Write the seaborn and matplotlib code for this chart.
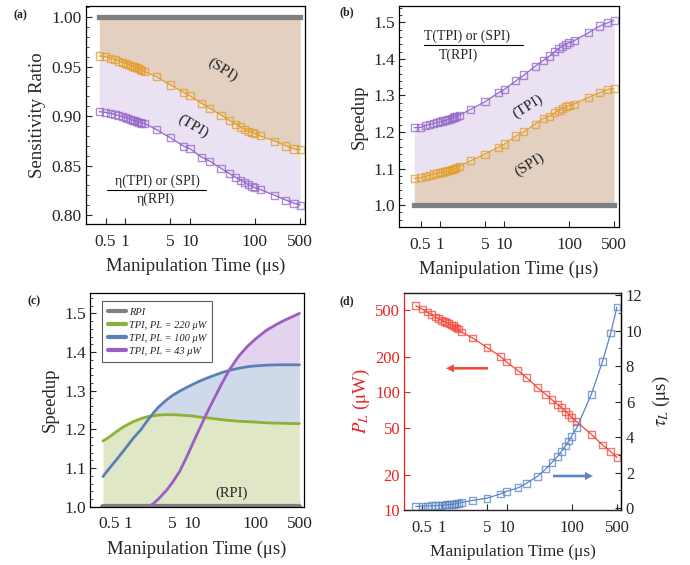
import numpy as np
import pandas as pd
import matplotlib
matplotlib.use("Agg")
import matplotlib.pyplot as plt
import seaborn as sns
from matplotlib.ticker import FixedLocator, FixedFormatter, NullLocator, MultipleLocator
from matplotlib.lines import Line2D

# ---------------- data ----------------
t_us = [0.4, 0.5, 0.6, 0.7, 0.8, 0.9, 1.0, 1.1, 1.2, 1.3, 1.4, 1.5, 1.6, 1.7, 1.8, 2,
        3, 5, 8, 10, 15, 20, 30, 40, 50, 60, 70, 80, 90, 100, 120, 200, 300, 400, 500]

# (a) sensitivity ratio
a_spi = [0.9608, 0.9601, 0.9585, 0.9570, 0.9555, 0.9545, 0.9535, 0.9525, 0.9515, 0.9505,
         0.9497, 0.9488, 0.9480, 0.9470, 0.9462, 0.9450, 0.9400, 0.9315, 0.9240, 0.9205,
         0.9130, 0.9080, 0.9010, 0.8960, 0.8920, 0.8890, 0.8862, 0.8845, 0.8835, 0.8822,
         0.8800, 0.8748, 0.8698, 0.8668, 0.8658]
a_tpi = [0.9045, 0.9038, 0.9028, 0.9015, 0.9003, 0.8995, 0.8985, 0.8977, 0.8968, 0.8960,
         0.8953, 0.8946, 0.8940, 0.8934, 0.8930, 0.8925, 0.8866, 0.8780, 0.8695, 0.8670,
         0.8585, 0.8545, 0.8472, 0.8421, 0.8382, 0.8353, 0.8326, 0.8305, 0.8290, 0.8275,
         0.8258, 0.8200, 0.8150, 0.8118, 0.8100]

# (b) speedup
b_tpi = [1.2116, 1.2126, 1.2180, 1.2208, 1.2236, 1.2260, 1.2280, 1.2300, 1.2318, 1.2335,
         1.2352, 1.2370, 1.2390, 1.2410, 1.2430, 1.2460, 1.2620, 1.2828, 1.3070, 1.3166,
         1.3400, 1.3558, 1.3800, 1.3960, 1.4080, 1.4195, 1.4288, 1.4350, 1.4400, 1.4440,
         1.4497, 1.4715, 1.4900, 1.4990, 1.5060]
b_spi = [1.0735, 1.0750, 1.0790, 1.0820, 1.0850, 1.0870, 1.0890, 1.0905, 1.0920, 1.0935,
         1.0950, 1.0965, 1.0980, 1.1000, 1.1020, 1.1067, 1.1212, 1.1396, 1.1580, 1.1670,
         1.1890, 1.2006, 1.2217, 1.2373, 1.2436, 1.2526, 1.2600, 1.2650, 1.2690, 1.2729,
         1.2764, 1.2947, 1.3073, 1.3166, 1.3194]
rpi_ref = 1.0

# (c) speedup for different powers
c_t = [0.4, 0.5, 0.65, 0.85, 1.2, 1.6, 2, 2.5, 3, 4, 5, 6.5, 8, 10, 13, 17, 22, 30, 40, 55,
       75, 100, 150, 220, 280, 380, 500]
c_220 = [1.170, 1.180, 1.194, 1.207, 1.220, 1.228, 1.233, 1.235, 1.237, 1.238, 1.238, 1.237,
         1.236, 1.235, 1.232, 1.230, 1.228, 1.225, 1.223, 1.221, 1.220, 1.219, 1.217, 1.216,
         1.216, 1.215, 1.215]
c_100 = [1.078, 1.0985, 1.121, 1.145, 1.177, 1.200, 1.2225, 1.2425, 1.2575, 1.276, 1.288, 1.299,
         1.307, 1.315, 1.324, 1.332, 1.339, 1.347, 1.353, 1.358, 1.362, 1.364, 1.366, 1.367,
         1.367, 1.367, 1.367]
c_43 = [np.nan, np.nan, np.nan, np.nan, np.nan, np.nan, 0.997, 1.008, 1.020, 1.042, 1.063,
        1.092, 1.122, 1.157, 1.198, 1.239, 1.276, 1.319, 1.356, 1.389, 1.414, 1.433, 1.456,
        1.472, 1.481, 1.491, 1.500]
c_labels = ["RPI", "TPI, PL = 220 \u03bcW", "TPI, PL = 100 \u03bcW", "TPI, PL = 43 \u03bcW"]

# (d) laser power and time constant
d_power = [541, 507, 478, 454, 434, 420, 408, 398, 388, 380, 372, 365, 357, 350, 343, 324,
           288, 239, 201, 180, 152, 134, 109, 96, 86, 79, 74, 69, 65, 61, 56, 44, 35.6, 31.3, 28]
d_tau = [0.10, 0.12, 0.13, 0.14, 0.15, 0.16, 0.17, 0.18, 0.19, 0.20, 0.21, 0.22, 0.24, 0.26,
         0.28, 0.32, 0.44, 0.57, 0.80, 0.95, 1.15, 1.40, 1.80, 2.21, 2.59, 2.89, 3.21, 3.50,
         3.78, 4.06, 4.53, 6.39, 8.27, 9.86, 11.33]

xticks = [0.5, 1, 5, 10, 100, 500]
xticklabels = ["0.5", "1", "5", "10", "100", "500"]

# ---------------- style ----------------
sns.set_style("ticks")
plt.rcParams['font.family'] = ['Liberation Serif', 'DejaVu Serif']
plt.rcParams['mathtext.fontset'] = 'stix'

ORANGE = "#E29E2A"
PURPLE = "#9467C8"
TAN = "#E4D0C1"
LAV = "#EAE2F3"
GRAY = "#808080"
GREEN = "#8DB135"
BLUE = "#5B80B8"
PURPLE_C = "#9B5EC2"
GREEN_F = "#DFE7C6"
BLUE_F = "#CFD9EA"
PURPLE_F = "#E2D3EF"
RED = "#F04A3C"
RED_T = "#E82323"
BLUE_D = "#5B84C4"

W, H = 690, 565
fig = plt.figure(figsize=(W / 100, H / 100), dpi=100)


def axes_px(l, t, r, b):
    return fig.add_axes([l / W, 1 - b / H, (r - l) / W, (b - t) / H])


def style(ax, fs=12.5, xlim=(0.25, 590)):
    ax.set_xscale('log')
    ax.set_xlim(*xlim)
    ax.xaxis.set_major_locator(FixedLocator(xticks))
    ax.xaxis.set_major_formatter(FixedFormatter(xticklabels))
    ax.xaxis.set_minor_locator(NullLocator())
    ax.tick_params(which='both', direction='in', top=False, right=False, labelsize=fs)
    ax.tick_params(which='major', length=4, width=0.8)
    ax.tick_params(which='minor', length=2, width=0.6)
    ax.tick_params(axis='x', pad=7)
    ax.tick_params(axis='y', pad=3)
    for s in ax.spines.values():
        s.set_visible(True)
        s.set_linewidth(0.9)
        s.set_color('black')
    ax.set_xlabel("Manipulation Time (\u03bcs)", fontsize=13.5, labelpad=6)


def scatter(ax, x, y, color, s=26):
    sns.scatterplot(x=x, y=y, ax=ax, marker='s', s=s, facecolor='none', edgecolor=color,
                    linewidth=1.0, alpha=0.75, legend=False, zorder=4)


def fitline(ax, x, y, color, lw=0.9):
    sns.lineplot(x=x, y=y, ax=ax, color=color, lw=lw, estimator=None, sort=False,
                 legend=False, zorder=3)


# ---------------- (a) ----------------
axa = axes_px(86, 6, 305, 224)
axa.set_xscale('log')
axa.fill_between(t_us, a_spi, rpi_ref, color=TAN, lw=0, zorder=1)
axa.fill_between(t_us, a_tpi, a_spi, color=LAV, lw=0, zorder=1)
sns.lineplot(x=[t_us[0], t_us[-1]], y=[rpi_ref, rpi_ref], ax=axa, color=GRAY, lw=3.8,
             solid_capstyle='projecting', zorder=2)
fitline(axa, t_us, a_spi, ORANGE)
fitline(axa, t_us, a_tpi, PURPLE)
scatter(axa, t_us, a_spi, ORANGE)
scatter(axa, t_us, a_tpi, PURPLE)
style(axa)
axa.set_ylim(0.7909, 1.0114)
axa.yaxis.set_major_locator(MultipleLocator(0.05))
axa.yaxis.set_minor_locator(MultipleLocator(0.01))
axa.yaxis.set_major_formatter(matplotlib.ticker.FormatStrFormatter('%.2f'))
axa.set_ylabel("Sensitivity Ratio", fontsize=13.5, labelpad=4)
axa.text(32, 0.9467, "(SPI)", rotation=-32, fontsize=11, ha='center', va='center', zorder=5)
axa.text(11.1, 0.890, "(TPI)", rotation=-30, fontsize=11, ha='center', va='center', zorder=5)

# ---------------- (b) ----------------
axb = axes_px(399, 6, 619, 227)
axb.set_xscale('log')
axb.fill_between(t_us, rpi_ref, b_spi, color=TAN, lw=0, zorder=1)
axb.fill_between(t_us, b_spi, b_tpi, color=LAV, lw=0, zorder=1)
sns.lineplot(x=[t_us[0], t_us[-1]], y=[rpi_ref, rpi_ref], ax=axb, color=GRAY, lw=3.8,
             solid_capstyle='projecting', zorder=2)
fitline(axb, t_us, b_spi, ORANGE)
fitline(axb, t_us, b_tpi, PURPLE)
scatter(axb, t_us, b_spi, ORANGE)
scatter(axb, t_us, b_tpi, PURPLE)
style(axb, xlim=(0.232, 596))
axb.set_ylim(0.94, 1.5447)
axb.yaxis.set_major_locator(MultipleLocator(0.1))
axb.yaxis.set_minor_locator(MultipleLocator(0.02))
axb.yaxis.set_major_formatter(matplotlib.ticker.FormatStrFormatter('%.1f'))
axb.set_ylabel("Speedup", fontsize=13.5, labelpad=4)
axb.text(22.9, 1.269, "(TPI)", rotation=32, fontsize=11, ha='center', va='center', zorder=5)
axb.text(24.8, 1.1095, "(SPI)", rotation=32, fontsize=11, ha='center', va='center', zorder=5)

# ---------------- (c) ----------------
axc = axes_px(90, 293.3, 304, 506.7)
axc.set_xscale('log')
c220 = np.array(c_220)
c100 = np.array(c_100)
c43 = np.array(c_43)
axc.fill_between(c_t, rpi_ref, c220, color=GREEN_F, lw=0, zorder=1)
axc.fill_between(c_t, c220, c100, where=c100 > c220, interpolate=True, color=BLUE_F, lw=0, zorder=1)
ok = ~np.isnan(c43)
axc.fill_between(np.array(c_t)[ok], c100[ok], c43[ok], where=c43[ok] > c100[ok], interpolate=True,
                 color=PURPLE_F, lw=0, zorder=1)
sns.lineplot(x=[c_t[0], c_t[-1]], y=[rpi_ref, rpi_ref], ax=axc, color=GRAY, lw=4.5, zorder=2)
sns.lineplot(x=c_t, y=c_220, ax=axc, color=GREEN, lw=2.0, estimator=None, sort=False, zorder=3)
sns.lineplot(x=c_t, y=c_100, ax=axc, color=BLUE, lw=2.0, estimator=None, sort=False, zorder=3)
sns.lineplot(x=c_t, y=c_43, ax=axc, color=PURPLE_C, lw=2.0, estimator=None, sort=False, zorder=3)
style(axc)
axc.set_ylim(1.0, 1.552)
axc.yaxis.set_major_locator(MultipleLocator(0.1))
axc.yaxis.set_minor_locator(MultipleLocator(0.02))
axc.yaxis.set_major_formatter(matplotlib.ticker.FormatStrFormatter('%.1f'))
axc.set_ylabel("Speedup", fontsize=13.5, labelpad=4)
axc.text(43, 1.034, "(RPI)", fontsize=10.5, ha='center', va='center', zorder=5)
handles = [Line2D([], [], color=c, lw=3) for c in (GRAY, GREEN, BLUE, PURPLE_C)]
leg = axc.legend(handles, c_labels, loc='upper left', bbox_to_anchor=(0.055, 0.962),
                 prop={'style': 'italic', 'size': 7.5}, frameon=True, fancybox=False,
                 handlelength=1.7, handletextpad=0.3, labelspacing=0.35, borderpad=0.6,
                 borderaxespad=0)
leg.get_frame().set_edgecolor('#333333')
leg.get_frame().set_linewidth(0.8)

# ---------------- (d) ----------------
axd = axes_px(404.3, 293.3, 621, 510)
axd.set_xscale('log')
axd.set_yscale('log')
fitline(axd, t_us, d_power, RED)
scatter(axd, t_us, d_power, RED, s=24)
style(axd, fs=12, xlim=(0.266, 576))
axd.set_xlabel("Manipulation Time (\u03bcs)", fontsize=12.5, labelpad=6)
axd.set_ylim(10, 690)
axd.yaxis.set_major_locator(FixedLocator([10, 20, 50, 100, 200, 500]))
axd.yaxis.set_major_formatter(FixedFormatter(["10", "20", "50", "100", "200", "500"]))
axd.yaxis.set_minor_locator(NullLocator())
axd.tick_params(axis='y', colors=RED_T, labelcolor=RED_T)
axd.spines['left'].set_color(RED_T)
axd.set_ylabel(r"$P_L$ ($\mathrm{\mu}$W)", fontsize=13.5, color=RED_T, labelpad=2)

axd2 = axd.twinx()
fitline(axd2, t_us, d_tau, BLUE_D)
scatter(axd2, t_us, d_tau, BLUE_D, s=24)
axd2.set_ylim(-0.1, 12.1)
axd2.yaxis.set_major_locator(MultipleLocator(2))
axd2.yaxis.set_minor_locator(MultipleLocator(1))
axd2.tick_params(which='both', direction='in', labelsize=12, left=False, right=True)
axd2.tick_params(which='major', length=4, width=0.8)
axd2.tick_params(which='minor', length=2, width=0.6)
axd2.spines['left'].set_visible(False)
axd2.spines['right'].set_color('black')
axd2.spines['right'].set_linewidth(0.9)
axd2.spines['top'].set_linewidth(0.9)
axd2.set_ylabel(r"$\tau_L$ ($\mathrm{\mu}$s)", fontsize=13.5, labelpad=6)
axd2.set_xlim(0.266, 576)

# arrows (figure pixel coordinates)
fig.patches.append(matplotlib.patches.FancyArrow(488 / W, 1 - 368.3 / H, -42 / W, 0,
                                                 width=2.6 / H, head_width=8 / H, head_length=8 / W,
                                                 length_includes_head=True, transform=fig.transFigure,
                                                 color=RED, lw=0))
fig.patches.append(matplotlib.patches.FancyArrow(553 / W, 1 - 476 / H, 40 / W, 0,
                                                 width=2.6 / H, head_width=8 / H, head_length=8 / W,
                                                 length_includes_head=True, transform=fig.transFigure,
                                                 color=BLUE_D, lw=0))

# fraction labels
fig.text(157 / W, 1 - 181 / H, "\u03b7(TPI) or (SPI)", fontsize=10, ha='center', va='center')
fig.text(156 / W, 1 - 199 / H, "\u03b7(RPI)", fontsize=10, ha='center', va='center')
fig.add_artist(Line2D([107 / W, 206 / W], [1 - 189.5 / H, 1 - 189.5 / H], color='black', lw=0.8))
fig.text(467 / W, 1 - 36 / H, "T(TPI) or (SPI)", fontsize=10, ha='center', va='center')
fig.text(458 / W, 1 - 55 / H, "T(RPI)", fontsize=10, ha='center', va='center')
fig.add_artist(Line2D([424 / W, 523 / W], [1 - 45 / H, 1 - 45 / H], color='black', lw=0.8))

# panel labels
for lab, x, y in [("(a)", 13, 15), ("(b)", 340, 12), ("(c)", 27, 301), ("(d)", 340, 301)]:
    fig.text(x / W, 1 - y / H, lab, fontsize=8.5, fontweight='bold', ha='left', va='center')

fig.savefig("out.png", dpi=100)
